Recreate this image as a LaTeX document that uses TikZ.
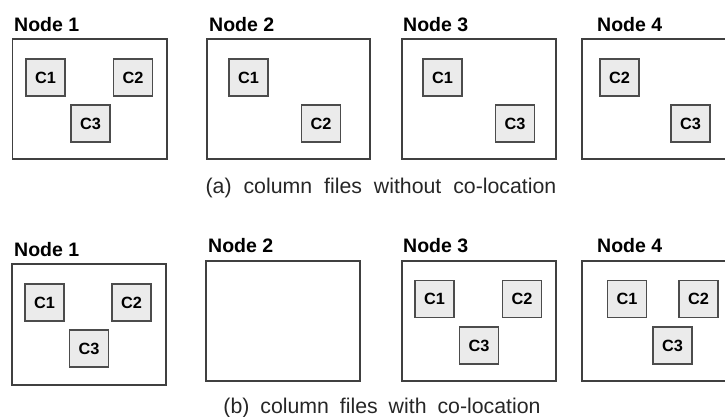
\documentclass[tikz,border=0pt]{standalone}
\usepackage{fontspec}
\setmainfont{Liberation Sans}
\begin{document}
\begin{tikzpicture}[x=1pt,y=-1pt,
  hostbox/.style={draw=black!75,line width=1.1pt,fill=white},
  colbox/.style={draw=black!70,line width=1.1pt,fill=black!8,minimum width=39pt,minimum height=37pt,inner sep=0pt,font=\fontsize{16.3}{17}\selectfont\bfseries},
  hostlabel/.style={anchor=base west,inner sep=0pt,font=\fontsize{19.5}{21}\selectfont\bfseries},
  caption/.style={anchor=base,inner sep=0pt,font=\fontsize{21.3}{23}\selectfont,text=black!85}]
\useasboundingbox (0,0) rectangle (725,416);
\clip (0,0) rectangle (725,416);
% top row
\draw[hostbox] (12.7,39) rectangle (167,159) coordinate (n1a);
\draw[hostbox] (207,39) rectangle (370,159) coordinate (n2a);
\draw[hostbox] (402,39) rectangle (556,159) coordinate (n3a);
\draw[hostbox] (582,39) rectangle (745,159) coordinate (n4a);
\node[hostlabel] (l1a) at (14,31) {Node 1};
\node[hostlabel] (l2a) at (209,31) {Node 2};
\node[hostlabel] (l3a) at (403,31) {Node 3};
\node[hostlabel] (l4a) at (597,31) {Node 4};
\node[colbox] (a11) at (45.5,77.5) {C1};
\node[colbox] (a12) at (133,77.5) {C2};
\node[colbox] (a13) at (90.5,123.5) {C3};
\node[colbox] (a21) at (248.5,77.5) {C1};
\node[colbox] (a22) at (321,123.5) {C2};
\node[colbox] (a31) at (442.5,77.5) {C1};
\node[colbox] (a33) at (515,123.5) {C3};
\node[colbox] (a42) at (619.5,77.5) {C2};
\node[colbox] (a43) at (690.5,123.5) {C3};
\node[caption] (capa) at (381,193) {(a)\hspace{6pt} column\hspace{6pt} files\hspace{6pt} without\hspace{6pt} co-location};
% bottom row
\draw[hostbox] (12,264) rectangle (166,385) coordinate (n1b);
\draw[hostbox] (206,261) rectangle (360,381) coordinate (n2b);
\draw[hostbox] (402,261) rectangle (556,381) coordinate (n3b);
\draw[hostbox] (582,261) rectangle (745,381) coordinate (n4b);
\node[hostlabel] (l1b) at (14,256) {Node 1};
\node[hostlabel] (l2b) at (208,252) {Node 2};
\node[hostlabel] (l3b) at (403,252) {Node 3};
\node[hostlabel] (l4b) at (597,252) {Node 4};
\node[colbox] (b11) at (44.5,302.5) {C1};
\node[colbox] (b12) at (131.5,302.5) {C2};
\node[colbox] (b13) at (89,348.5) {C3};
\node[colbox] (b31) at (434.5,299) {C1};
\node[colbox] (b32) at (522,299) {C2};
\node[colbox] (b33) at (479,345.5) {C3};
\node[colbox] (b41) at (627,299) {C1};
\node[colbox] (b42) at (698.5,299) {C2};
\node[colbox] (b43) at (672.5,345.5) {C3};
\node[caption] (capb) at (382,413) {(b)\hspace{5pt} column\hspace{5pt} files\hspace{5pt} with\hspace{5pt} co-location};
\end{tikzpicture}
\end{document}
